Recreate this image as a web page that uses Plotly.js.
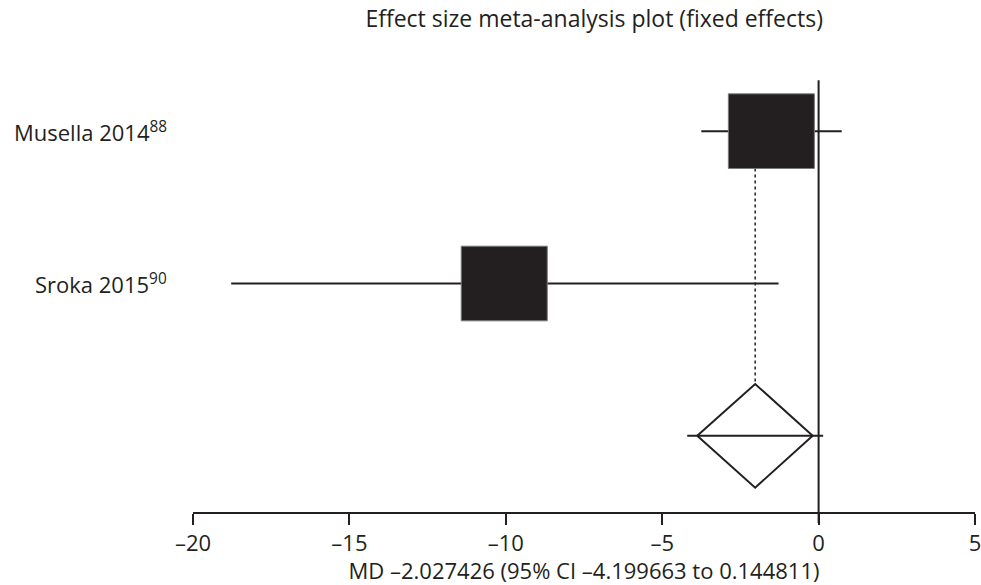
<!DOCTYPE html>
<html>
<head>
<meta charset="utf-8">
<script src="https://cdn.plot.ly/plotly-3.0.1.min.js"></script>
<style>
  html, body { margin: 0; padding: 0; background: #ffffff; }
  #chart { width: 981px; height: 585px; }
</style>
</head>
<body>
<div id="chart"></div>
<script>
// Study-level mean differences with 95% confidence intervals
const studies = ["Musella 2014<sup>88</sup>", "Sroka 2015<sup>90</sup>"];
const estimates = [-1.51, -10.05];
const lowerCI = [-3.75, -18.78];
const upperCI = [0.74, -1.28];

// Pooled (fixed effects) result
const pooledMD = -2.027426;
const pooledLower = -4.199663;
const pooledUpper = 0.144811;
const diamondEdges = [-3.88, -0.19];

// Axis ticks
const tickValues = [-20, -15, -10, -5, 0, 5];
const tickLabels = ["–20", "–15", "–10", "–5", "0", "5"];

const INK = "#231f20";
const FONT = "Open Sans, Noto Sans, sans-serif";
const BOX_W = 2.75;   // box width in x units
const BOX_H = 0.49;   // box height in row units
const DIAMOND_H = 0.34;

const rows = studies.map((_, i) => i + 1);
const pooledRow = studies.length + 1;

const traces = [];
const shapes = [];
const annotations = [];

// Confidence interval whiskers for each study
studies.forEach((s, i) => {
  traces.push({
    type: "scatter", mode: "lines",
    x: [lowerCI[i], upperCI[i]], y: [rows[i], rows[i]],
    line: { color: INK, width: 2 },
    hoverinfo: "skip", showlegend: false
  });
  // Weight box
  shapes.push({
    type: "rect", xref: "x", yref: "y", layer: "above",
    x0: estimates[i] - BOX_W / 2, x1: estimates[i] + BOX_W / 2,
    y0: rows[i] - BOX_H / 2, y1: rows[i] + BOX_H / 2,
    fillcolor: INK, line: { color: "#7a7a7c", width: 1 }
  });
  annotations.push({
    xref: "paper", yref: "y", x: -0.031, y: rows[i],
    xanchor: "right", yanchor: "middle", showarrow: false,
    text: s, font: { family: FONT, size: 22, color: INK }
  });
});

// Dotted reference line at the pooled estimate
traces.push({
  type: "scatter", mode: "lines",
  x: [pooledMD, pooledMD], y: [rows[0] + BOX_H / 2, pooledRow - DIAMOND_H],
  line: { color: INK, width: 1.5, dash: "dot" },
  hoverinfo: "skip", showlegend: false
});

// Pooled confidence interval line
traces.push({
  type: "scatter", mode: "lines",
  x: [pooledLower, pooledUpper], y: [pooledRow, pooledRow],
  line: { color: INK, width: 2 },
  hoverinfo: "skip", showlegend: false
});

// Pooled diamond
traces.push({
  type: "scatter", mode: "lines",
  x: [diamondEdges[0], pooledMD, diamondEdges[1], pooledMD, diamondEdges[0]],
  y: [pooledRow, pooledRow - DIAMOND_H, pooledRow, pooledRow + DIAMOND_H, pooledRow],
  line: { color: INK, width: 2 },
  hoverinfo: "skip", showlegend: false
});

// Line of no effect
shapes.push({
  type: "line", xref: "x", yref: "paper",
  x0: 0, x1: 0, y0: -0.024, y1: 0.945,
  line: { color: INK, width: 2 }
});

const layout = {
  width: 981, height: 585,
  paper_bgcolor: "#ffffff", plot_bgcolor: "#ffffff",
  margin: { l: 193, r: 6, t: 55, b: 73 },
  showlegend: false,
  title: {
    text: "Effect size meta-analysis plot (fixed effects)",
    font: { family: FONT, size: 23, color: INK },
    xref: "paper", x: 0.513, xanchor: "center",
    yref: "container", y: 0.968, yanchor: "middle"
  },
  xaxis: {
    range: [-20, 5], fixedrange: true,
    tickmode: "array", tickvals: tickValues, ticktext: tickLabels,
    ticklabeloverflow: "allow",
    ticks: "outside", ticklen: 11, tickwidth: 2, tickcolor: INK,
    showline: true, linecolor: INK, linewidth: 2,
    showgrid: false, zeroline: false,
    tickfont: { family: FONT, size: 22, color: INK },
    title: {
      text: "MD –2.027426 (95% CI –4.199663 to 0.144811)",
      font: { family: FONT, size: 22, color: INK }
    }
  },
  yaxis: {
    range: [pooledRow + 0.5, 0.5], fixedrange: true,
    visible: false, showgrid: false, zeroline: false
  },
  shapes: shapes,
  annotations: annotations
};

Plotly.newPlot("chart", traces, layout, { staticPlot: true, displayModeBar: false });
</script>
</body>
</html>
